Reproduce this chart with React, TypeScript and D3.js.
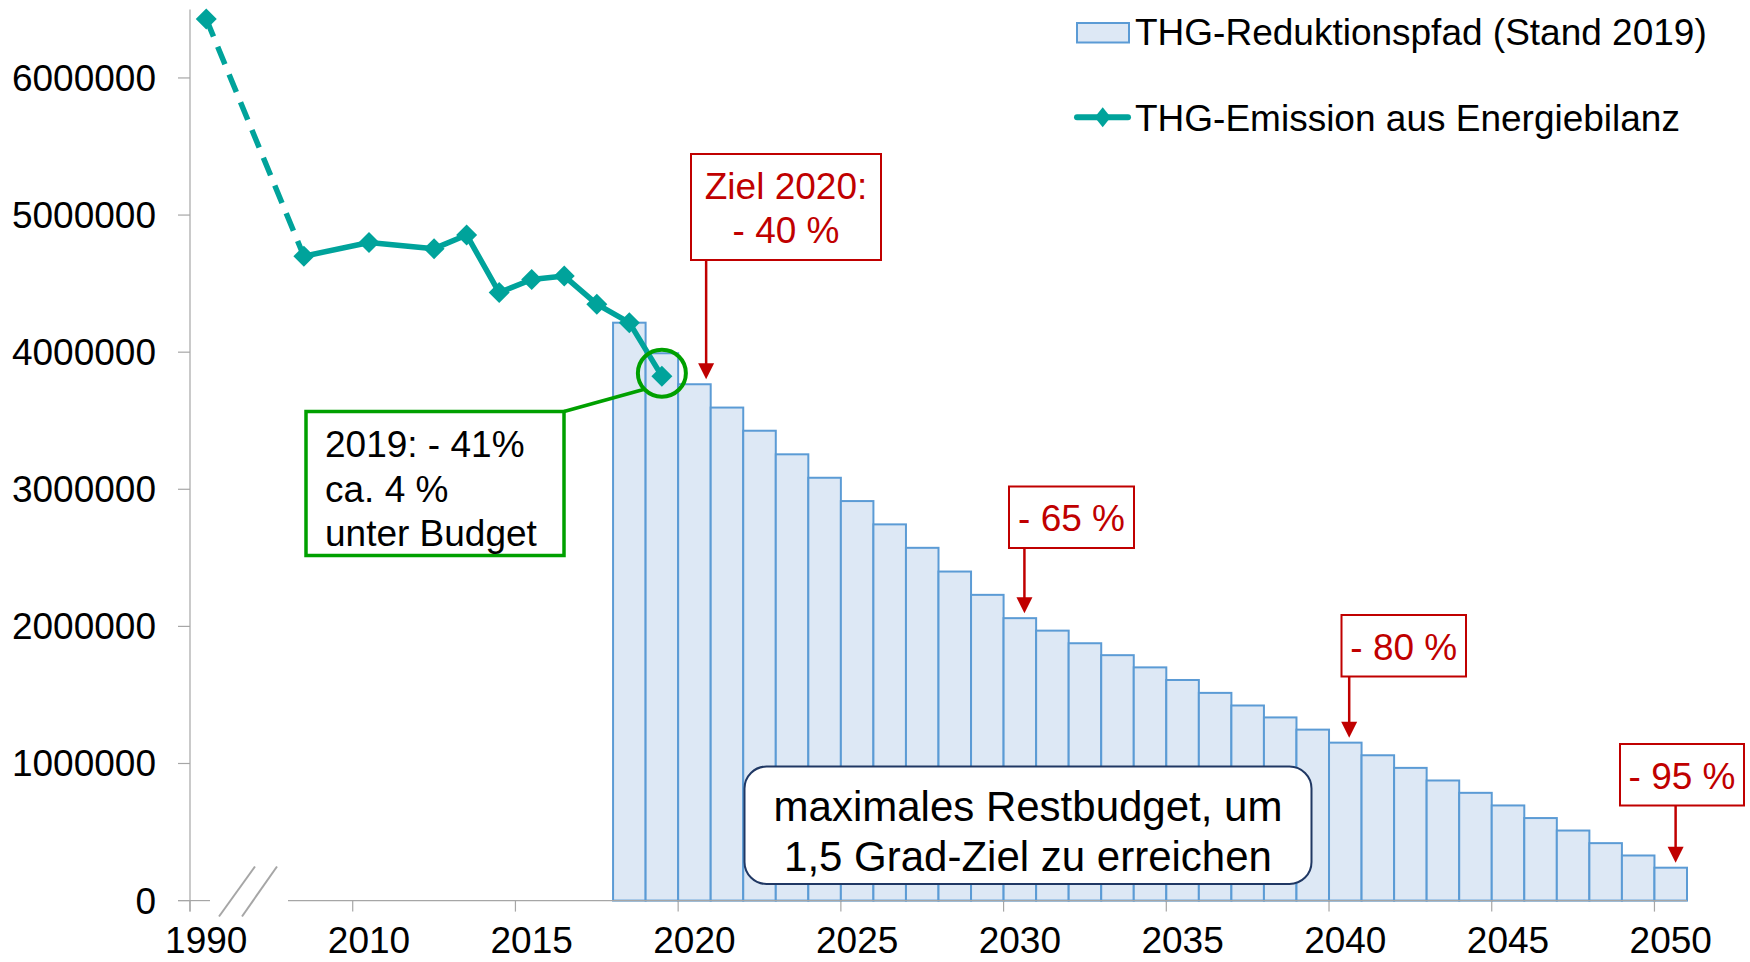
import React, { useEffect, useRef } from 'react';
import * as d3 from 'd3';

// Kategorien der x-Achse: 1990, zwei Lücken (Achsenbruch), dann 2008 bis 2050
const categories = ['1990', 'luecke1', 'luecke2', ...d3.range(2008, 2051).map(String)];

// THG-Emission aus Energiebilanz (Linie)
const emissionYears = ['1990', '2008', '2010', '2012', '2013', '2014', '2015', '2016', '2017', '2018', '2019'];
const emissionValues = [6430000, 4700000, 4800000, 4755000, 4855000, 4435000, 4530000, 4555000, 4350000, 4215000, 3825000];

// THG-Reduktionspfad (Balken)
const pathYears = d3.range(2018, 2051).map(String);
const pathValues = [
  4215000, 3992000, 3766000, 3596000, 3427000, 3255000, 3084000, 2914000, 2744000, 2573000,
  2400000, 2230000, 2060000, 1969000, 1877000, 1790000, 1701000, 1609000, 1515000, 1423000,
  1336000, 1247000, 1152000, 1060000, 968000, 876000, 786000, 694000, 602000, 511000,
  419000, 329000, 240000,
];

const yTicks = [0, 1000000, 2000000, 3000000, 4000000, 5000000, 6000000];
const xLabels = ['1990', '2010', '2015', '2020', '2025', '2030', '2035', '2040', '2045', '2050'];

const targetYears = ['2020', '2030', '2040', '2050'];
const targetTexts = [['Ziel 2020:', '- 40 %'], ['- 65 %'], ['- 80 %'], ['- 95 %']];
const noteLines = ['2019: - 41%', 'ca. 4 %', 'unter Budget'];
const budgetLines = ['maximales Restbudget, um', '1,5 Grad-Ziel zu erreichen'];
const legendLabels = ['THG-Reduktionspfad (Stand 2019)', 'THG-Emission aus Energiebilanz'];

const FONT = '"Liberation Sans", Arial, sans-serif';
const TEAL = '#00a39b';
const BAR_FILL = '#dde8f5';
const BAR_STROKE = '#5b9bd5';
const RED = '#c00000';
const GREEN = '#00a000';
const AXIS = '#a6a6a6';

const App = () => {
  const svgRef = useRef<SVGSVGElement>(null);

  useEffect(() => {
    const svg = d3.select(svgRef.current);
    svg.selectAll('*').remove();

    const width = 1750;
    const height = 962;
    svg.attr('width', width).attr('height', height);

    const x = d3.scaleBand().domain(categories).range([190, 1687]).padding(0);
    const y = d3.scaleLinear().domain([0, 6500000]).range([900.6, 9.4]);
    const bw = x.bandwidth();
    const y0 = y(0);

    // Balken
    svg.append('g')
      .selectAll('rect')
      .data(pathYears)
      .enter()
      .append('rect')
      .attr('x', d => x(d))
      .attr('width', bw)
      .attr('y', (d, i) => y(pathValues[i]))
      .attr('height', (d, i) => y0 - y(pathValues[i]))
      .attr('fill', BAR_FILL)
      .attr('stroke', BAR_STROKE)
      .attr('stroke-width', 2);

    // y-Achse
    const ax = svg.append('g').attr('font-family', FONT).attr('font-size', 37);
    ax.append('line')
      .attr('x1', 190).attr('x2', 190)
      .attr('y1', y(6500000)).attr('y2', y0 + 11)
      .attr('stroke', AXIS).attr('stroke-width', 1.2);
    yTicks.forEach(t => {
      ax.append('line')
        .attr('x1', 178).attr('x2', 190)
        .attr('y1', y(t)).attr('y2', y(t))
        .attr('stroke', AXIS).attr('stroke-width', 1.2);
      ax.append('text')
        .attr('x', 156).attr('y', y(t) + 13)
        .attr('text-anchor', 'end')
        .text(String(t));
    });

    // x-Achse mit Bruch
    ax.append('line')
      .attr('x1', 178).attr('x2', 210)
      .attr('y1', y0).attr('y2', y0)
      .attr('stroke', AXIS).attr('stroke-width', 1.2);
    ax.append('line')
      .attr('x1', 288).attr('x2', 1687)
      .attr('y1', y0).attr('y2', y0)
      .attr('stroke', AXIS).attr('stroke-width', 1.2);
    [[219, 255], [242, 277]].forEach(([a, b]) => {
      ax.append('line')
        .attr('x1', a).attr('y1', 916.5)
        .attr('x2', b).attr('y2', 866.5)
        .attr('stroke', AXIS).attr('stroke-width', 2);
    });
    xLabels.forEach(l => {
      const xs = x(l);
      ax.append('line')
        .attr('x1', xs).attr('x2', xs)
        .attr('y1', y0).attr('y2', y0 + 11)
        .attr('stroke', AXIS).attr('stroke-width', 1.2);
      ax.append('text')
        .attr('x', xs + bw / 2).attr('y', 953)
        .attr('text-anchor', 'middle')
        .text(l);
    });

    // Linie
    const pts = emissionYears.map((yr, i) => [x(yr) + bw / 2, y(emissionValues[i])]);
    const line = d3.line();
    svg.append('path')
      .attr('d', line(pts.slice(0, 2)))
      .attr('fill', 'none')
      .attr('stroke', TEAL)
      .attr('stroke-width', 5.5)
      .attr('stroke-dasharray', '19 11');
    svg.append('path')
      .attr('d', line(pts.slice(1)))
      .attr('fill', 'none')
      .attr('stroke', TEAL)
      .attr('stroke-width', 5.5)
      .attr('stroke-linejoin', 'round');
    const diamond = (r: number, ry: number) => `M0,${-ry}L${r},0L0,${ry}L${-r},0Z`;
    svg.append('g')
      .selectAll('path')
      .data(pts)
      .enter()
      .append('path')
      .attr('transform', d => `translate(${d[0]},${d[1]})`)
      .attr('d', diamond(10.5, 10.5))
      .attr('fill', TEAL);

    // Zielmarken
    const arrowFrac = [0.86, 0.64, 0.62, 0.65];
    const boxes = [
      [691, 154, 190, 106],
      [1009, 486.5, 125, 61.5],
      [1341.5, 615, 124.5, 61.5],
      [1620, 744, 124, 61.5],
    ];
    const rg = svg.append('g').attr('font-family', FONT).attr('font-size', 37).attr('fill', RED);
    targetYears.forEach((yr, i) => {
      const [bx, by, bwid, bh] = boxes[i];
      const v = pathValues[pathYears.indexOf(yr)];
      const axp = x(yr) + arrowFrac[i] * bw;
      const tip = y(v) - 5;
      rg.append('rect')
        .attr('x', bx).attr('y', by).attr('width', bwid).attr('height', bh)
        .attr('fill', 'white').attr('stroke', RED).attr('stroke-width', 2);
      const lines = targetTexts[i];
      lines.forEach((t, j) => {
        rg.append('text')
          .attr('x', bx + bwid / 2)
          .attr('y', by + bh / 2 + 14 + (j - (lines.length - 1) / 2) * 44)
          .attr('text-anchor', 'middle')
          .text(t);
      });
      rg.append('line')
        .attr('x1', axp).attr('x2', axp)
        .attr('y1', by + bh).attr('y2', tip - 12)
        .attr('stroke', RED).attr('stroke-width', 2.5);
      rg.append('path')
        .attr('d', `M${axp},${tip}L${axp - 8},${tip - 16}L${axp + 8},${tip - 16}Z`)
        .attr('fill', RED);
    });

    // Grüne Notiz zu 2019
    const p19 = pts[pts.length - 1];
    const ng = svg.append('g').attr('font-family', FONT).attr('font-size', 37);
    ng.append('ellipse')
      .attr('cx', p19[0]).attr('cy', p19[1] - 3)
      .attr('rx', 24).attr('ry', 23.5)
      .attr('fill', 'none').attr('stroke', GREEN).attr('stroke-width', 4);
    ng.append('line')
      .attr('x1', 564).attr('y1', 411.5)
      .attr('x2', 643.5).attr('y2', 389.5)
      .attr('stroke', GREEN).attr('stroke-width', 3.5);
    ng.append('rect')
      .attr('x', 306).attr('y', 411.5).attr('width', 258).attr('height', 144)
      .attr('fill', 'white').attr('stroke', GREEN).attr('stroke-width', 3.5);
    noteLines.forEach((t, j) => {
      ng.append('text')
        .attr('x', 325).attr('y', 457 + j * 44.5)
        .attr('fill', 'black')
        .text(t);
    });

    // Restbudget-Box
    const bg = svg.append('g').attr('font-family', FONT).attr('font-size', 42);
    bg.append('rect')
      .attr('x', 744.5).attr('y', 766.5).attr('width', 567).attr('height', 117.5)
      .attr('rx', 22).attr('ry', 22)
      .attr('fill', 'white').attr('stroke', '#203864').attr('stroke-width', 2);
    budgetLines.forEach((t, j) => {
      bg.append('text')
        .attr('x', 1028).attr('y', 821 + j * 50)
        .attr('text-anchor', 'middle')
        .text(t);
    });

    // Legende
    const lg = svg.append('g').attr('font-family', FONT).attr('font-size', 37);
    lg.append('rect')
      .attr('x', 1077).attr('y', 23).attr('width', 52).attr('height', 19.5)
      .attr('fill', BAR_FILL).attr('stroke', BAR_STROKE).attr('stroke-width', 2);
    lg.append('text').attr('x', 1135).attr('y', 45).text(legendLabels[0]);
    lg.append('line')
      .attr('x1', 1077).attr('x2', 1128)
      .attr('y1', 117.3).attr('y2', 117.3)
      .attr('stroke', TEAL).attr('stroke-width', 6).attr('stroke-linecap', 'round');
    lg.append('path')
      .attr('transform', 'translate(1102.7,117.3)')
      .attr('d', diamond(8, 10))
      .attr('fill', TEAL);
    lg.append('text').attr('x', 1135).attr('y', 130.5).text(legendLabels[1]);
  }, []);

  return (
    <svg
      ref={svgRef}
      style={{ position: 'absolute', left: 0, top: 0, background: 'white', display: 'block' }}
    />
  );
};

export default App;
